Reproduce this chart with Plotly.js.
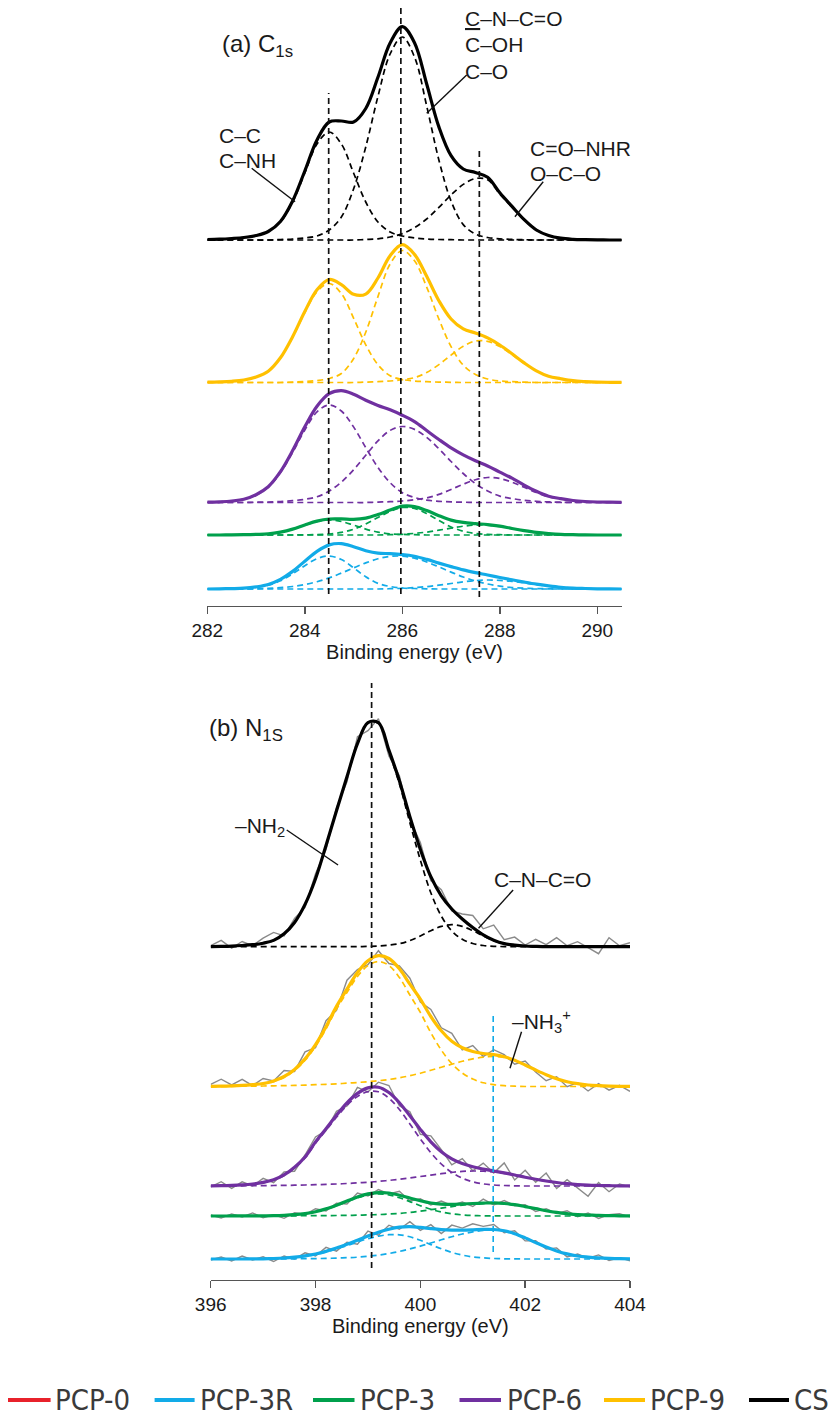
<!DOCTYPE html>
<html>
<head>
<meta charset="utf-8">
<script src="https://cdn.plot.ly/plotly-3.0.1.min.js"></script>
<style>html,body{margin:0;padding:0;background:#fff;}</style>
</head>
<body>
<div id="chart" style="width:836px;height:1419px;"></div>
<script>
// ---------------- DATA ----------------
// (a) C1s : binding energy grid (eV)
const xC = [282,282.25,282.5,282.75,283,283.25,283.5,283.75,284,284.25,284.5,284.75,285,285.25,285.5,285.75,286,286.25,286.5,286.75,287,287.25,287.5,287.75,288,288.25,288.5,288.75,289,289.25,289.5,289.75,290,290.25,290.5];

// fitted components (C–C/C–NH ~284.5, C–N–C=O/C–OH/C–O ~286, C=O–NHR/O–C–O ~287.6)
const cs_C1   = [0.5,0.8,1.5,2.5,4.5,8.5,18,38,67,96,108,96,67,38,18,8,4,2,1,0.5,0.3,0,0,0,0,0,0,0,0,0,0,0,0,0,0];
const cs_C2   = [0,0,0,0,0,0,0.5,1,2,4,10,23,51,93,143.5,186,203,183,134,80,39,15.4,6,2.5,1.2,0.6,0.3,0,0,0,0,0,0,0,0];
const cs_C3   = [0,0,0,0,0,0,0,0,0,0,0,0,0,0.5,1.2,3,6.4,12.3,21,32.6,45,55.6,61.5,60.3,46,33,20,10,4.5,1.8,0.7,0.3,0.1,0,0];

const p9_C1   = [0.3,0.6,1.2,2.5,5.5,11.3,24.7,45.3,70,90.8,99,88.9,64.4,37.7,17.8,6.8,3,1.5,0.8,0.4,0.2,0,0,0,0,0,0,0,0,0,0,0,0,0,0];
const p9_C2   = [0,0,0,0,0,0,0,0.5,1,2,4,9,23.8,50.3,85.9,118.5,132,121.7,95.4,63.5,35.9,17.3,8,3.5,1.5,0.8,0.4,0,0,0,0,0,0,0,0];
const p9_C3   = [0,0,0,0,0,0,0,0,0,0,0,0,0,0.4,0.8,1.5,2.8,4.9,10,17.9,27.4,36.3,41.5,41.1,36,27.9,19.2,11.7,6.3,3.8,1.8,0.9,0.4,0.2,0.1];

const p6_C1   = [0.3,0.7,1.5,3.2,7.5,15.3,29.8,50.1,72.5,90.6,97.5,91.5,75.6,54.9,35.1,19.8,9.8,5,2.4,1.2,0.6,0.3,0,0,0,0,0,0,0,0,0,0,0,0,0];
const p6_C2   = [0,0,0,0,0.3,0.5,1,1.8,3.2,5.7,11.4,20.4,32.7,47.3,61.6,72.1,76,73.1,65.1,53.7,41,29,18.9,11.5,6.4,4,2.2,1.2,0.6,0.3,0,0,0,0,0];
const p6_C3   = [0,0,0,0,0,0,0,0,0,0,0,0,0,0,0.4,0.8,1.5,2.8,4.5,8.1,13,18.3,22.8,25,24,20.3,15.2,10,5.7,3.5,2,1,0.5,0.3,0.2];

const p3_C1   = [0,0,0.1,0.3,0.6,1.1,2.9,5.9,9.9,13.5,15,13.5,9.9,5.9,2.9,1.1,0.6,0.3,0,0,0,0,0,0,0,0,0,0,0,0,0,0,0,0,0];
const p3_C2   = [0,0,0,0,0,0,0,0,0.2,0.4,1,2.6,5.8,11,17.5,23.5,27.5,26.5,21.5,14.5,8,3.8,1.5,0.6,0.3,0,0,0,0,0,0,0,0,0,0];
const p3_C3   = [0,0,0,0,0,0,0,0,0,0,0,0,0,0,0,0.3,0.7,1.6,2.9,4.8,6.9,8.8,9.9,9.8,8.5,6.5,4.4,2.6,1.4,0.6,0.3,0.1,0,0,0];

const p3r_C1  = [0,0.2,0.4,0.8,1.8,3.8,8.2,15.1,23.3,30.3,33,29.5,21.2,12.2,5.6,2.5,1,0.5,0.2,0,0,0,0,0,0,0,0,0,0,0,0,0,0,0,0];
const p3r_C2  = [0,0,0,0,0.3,0.7,1.4,2.5,4.5,7.3,11.1,15.9,21.1,26.1,30.2,32.6,32.8,30.8,27,22.1,16.9,12,8,5,2.9,1.5,0.8,0.4,0.2,0,0,0,0,0,0];
const p3r_C3  = [0,0,0,0,0,0,0,0,0,0,0,0,0,0,0,0.3,0.7,1.4,2.4,3.8,5.5,7.1,8.4,9,8.6,7.7,6.1,4.4,2.9,1.7,0.9,0.5,0.2,0.1,0];

// (b) N1s : binding energy grid (eV)
const xN = [396,396.2,396.4,396.6,396.8,397,397.2,397.4,397.6,397.8,398,398.2,398.4,398.6,398.8,399,399.2,399.4,399.6,399.8,400,400.2,400.4,400.6,400.8,401,401.2,401.4,401.6,401.8,402,402.2,402.4,402.6,402.8,403,403.2,403.4,403.6,403.8,404];

const cs_N1   = [0.1,0.3,0.6,1.2,2,3.5,6.3,12.9,24.2,42.3,68,101.2,136,170,203,223.8,223.4,195,163,124,86.6,54,30.6,15.7,7.4,3.2,1.2,0.4,0.1,0,0,0,0,0,0,0,0,0,0,0,0];
const cs_N2   = [0,0,0,0,0,0,0,0,0,0,0,0,0,0,0,0.3,0.7,1.6,3,6.1,10.7,16,20.3,22,20.3,16,10.7,6.1,3,1.6,0.7,0.3,0,0,0,0,0,0,0,0,0];
const cs_res  = [1,6,-2,4,-1,5,8,-2,4,-3,5,-4,3,-5,7,-8,4,-6,5,-3,7,-4,6,-2,5,12,6,15,4,8,1,7,2,9,1,5,-1,-7,9,1,4];

const p9_N1   = [0.1,0.2,0.4,0.8,1.5,2.5,4.9,9.1,16,26.2,40.1,57.6,77.4,94,110,121,125,121,109,91.5,74.1,53.8,36.4,22.9,13.5,7.4,3.7,1.8,0.8,0.3,0,0,0,0,0,0,0,0,0,0,0];
const p9_N2   = [0,0.1,0.2,0.3,0.4,0.5,0.7,0.9,1.1,1.4,1.8,2.2,2.7,3.3,4,4.8,5.8,7,8.7,10.8,13.3,16.2,19.3,22.3,25.2,27.6,29.3,30,29,26,21.5,16.5,11.8,7.8,4.8,2.8,1.5,0.8,0.4,0.2,0.1];
const p9_res  = [2,7,1,6,-1,5,0,6,-2,7,-3,6,-4,9,3,-4,5,-5,3,6,-3,7,3,8,-2,6,-3,5,2,-4,4,-2,-6,2,-5,1,-6,2,-4,1,-5];

const p6_N1   = [0.1,0.2,0.5,0.9,1.7,3.2,5.8,10.5,18,28,42.8,55.7,68.7,80.6,89.5,94.3,94.2,87.9,76.5,62.1,47.1,33.3,22,13.5,7.8,4.2,2.1,1,0.5,0.2,0,0,0,0,0,0,0,0,0,0,0];
const p6_N2   = [0,0.1,0.1,0.2,0.3,0.4,0.5,0.6,0.8,1,1.3,1.6,2,2.5,3.1,3.8,4.6,5.6,6.8,8.1,9.5,10.9,12.3,13.6,14.6,15,14.8,14,12.6,10.8,8.8,6.8,5,3.5,2.3,1.4,0.8,0.5,0.3,0.1,0.1];
const p6_res  = [-1,4,-3,3,-2,4,-3,3,-4,2,5,-2,4,-3,6,-4,5,7,-3,4,-5,6,2,-6,5,-4,6,-2,10,-5,7,-3,8,-6,4,-3,-11,3,-6,2,-1];

const p3_N1   = [0,0,0,0,0,0.1,0.2,0.5,1.1,2.2,4,6.7,10.3,14.4,18.2,21,22,21,18.2,14.4,10.3,6.7,4,2.2,1.1,0.5,0.2,0.1,0,0,0,0,0,0,0,0,0,0,0,0,0];
const p3_N2   = [0,0,0.05,0.05,0.1,0.1,0.1,0.15,0.2,0.25,0.3,0.4,0.5,0.6,0.8,1.1,1.4,2,2.6,3.6,4.9,6.3,7.9,9.4,10.9,12,12.7,13,12.5,11.3,9.4,7.4,5.3,3.6,2.3,1.3,1,0.6,0.4,0.2,0.1];
const p3_res  = [1,-2,2,-1,3,-2,1,-3,2,-1,3,-2,2,-3,4,-2,3,-1,4,-3,2,-2,3,-1,2,-3,4,-2,3,-1,2,-3,2,-1,3,-2,2,-3,1,2,-1];

const p3r_N1  = [0,0,0,0,0.1,0.2,0.5,0.9,1.7,2.9,4.6,7,10,13.4,17,20.3,22.9,24.3,24.2,22.2,18.7,14.4,10.2,6.6,3.9,2.1,1.1,0.5,0.2,0.1,0,0,0,0,0,0,0,0,0,0,0];
const p3r_N2  = [0,0,0,0,0,0,0,0.1,0.2,0.3,0.4,0.6,0.9,1.3,1.8,2.7,3.9,5.5,7.6,10.1,12.9,16,19.2,22.3,25,27.1,28.5,29,28,25.2,21.1,16.4,11.9,8.1,5.1,3,1.9,1.1,0.6,0.3,0.2];
const p3r_res = [-1,2,-2,3,-1,2,-3,2,-2,3,-2,4,-3,2,-4,5,-3,4,-2,5,-3,4,-4,5,2,6,3,5,-2,3,-3,2,-2,3,-3,2,-1,3,-2,1,-2];

// reference peak positions (eV)
const peaksC = [284.49, 285.97, 287.58];
const peakNH2 = 399.07, peakNH3 = 401.39;

// axis ticks
const ticksC = [282,284,286,288,290];
const ticksN = [396,398,400,402,404];

// legend
const legendNames = ['PCP-0','PCP-3R','PCP-3','PCP-6','PCP-9','CS'];

// ---------------- STYLE ----------------
const COL = {'PCP-0':'#E8212B','PCP-3R':'#12ABE8','PCP-3':'#00A04C','PCP-6':'#7030A0','PCP-9':'#FFC000','CS':'#000000'};
const FONT = 'Liberation Sans, Arial, Helvetica, sans-serif';
const TXT = '#1a1a1a';

// vertical offsets (stacking) per sample
const offC = {'CS':366,'PCP-9':223.5,'PCP-6':103.5,'PCP-3':71,'PCP-3R':17};
const offN = {'CS':333.3,'PCP-9':193.5,'PCP-6':94,'PCP-3':64,'PCP-3R':21};

const traces = [];
function sumArr(list){ return list[0].map((_,i)=>list.reduce((s,a)=>s+a[i],0)); }
function addSample(name, x, comps, res, off, xa, ya){
  const env = sumArr(comps);
  const c = COL[name];
  if(res){
    traces.push({x:x, y:env.map((v,i)=>v+res[i]+off), xaxis:xa, yaxis:ya, mode:'lines',
      line:{color:'#8a8a8a', width:1.4}, hoverinfo:'skip', showlegend:false});
  }
  comps.forEach(cp=>{
    traces.push({x:x, y:cp.map(v=>v+off), xaxis:xa, yaxis:ya, mode:'lines',
      line:{color:c, width:1.7, dash:'6px,4px', shape:'spline', smoothing:1}, hoverinfo:'skip', showlegend:false});
  });
  traces.push({x:x, y:env.map(v=>v+off), xaxis:xa, yaxis:ya, mode:'lines', name:name,
    line:{color:c, width:3.2, shape:'spline', smoothing:1}, showlegend:false});
}
// panel (a)
addSample('PCP-3R', xC, [p3r_C1,p3r_C2,p3r_C3], null, offC['PCP-3R'], 'x','y');
addSample('PCP-3',  xC, [p3_C1,p3_C2,p3_C3],   null, offC['PCP-3'],  'x','y');
addSample('PCP-6',  xC, [p6_C1,p6_C2,p6_C3],   null, offC['PCP-6'],  'x','y');
addSample('PCP-9',  xC, [p9_C1,p9_C2,p9_C3],   null, offC['PCP-9'],  'x','y');
addSample('CS',     xC, [cs_C1,cs_C2,cs_C3],   null, offC['CS'],     'x','y');
// panel (b)
addSample('PCP-3R', xN, [p3r_N1,p3r_N2], p3r_res, offN['PCP-3R'], 'x2','y2');
addSample('PCP-3',  xN, [p3_N1,p3_N2],   p3_res,  offN['PCP-3'],  'x2','y2');
addSample('PCP-6',  xN, [p6_N1,p6_N2],   p6_res,  offN['PCP-6'],  'x2','y2');
addSample('PCP-9',  xN, [p9_N1,p9_N2],   p9_res,  offN['PCP-9'],  'x2','y2');
addSample('CS',     xN, [cs_N1,cs_N2],   cs_res,  offN['CS'],     'x2','y2');

// ---------------- LAYOUT ----------------
const W = 836, H = 1419;
const px = v => v/W, py = v => 1 - v/H;

const shapes = [];
const vdash = {color:'#111', width:1.7, dash:'6px,4px'};
shapes.push({type:'line', xref:'x', yref:'y', x0:peaksC[0], x1:peaksC[0], y0:12, y1:513, line:vdash});
shapes.push({type:'line', xref:'x', yref:'y', x0:peaksC[1], x1:peaksC[1], y0:12, y1:598, line:vdash});
shapes.push({type:'line', xref:'x', yref:'y', x0:peaksC[2], x1:peaksC[2], y0:9,  y1:458, line:vdash});
shapes.push({type:'line', xref:'x2', yref:'y2', x0:peakNH2, x1:peakNH2, y0:12, y1:597, line:vdash});
shapes.push({type:'line', xref:'x2', yref:'y2', x0:peakNH3, x1:peakNH3, y0:28, y1:267, line:{color:COL['PCP-3R'], width:1.6, dash:'6px,4px'}});
// leader lines
const lead = {color:'#111', width:1.4};
[[282.91,437.7,283.80,404.3],[287.32,531,286.50,492.7],[288.89,424.3,288.31,389.3]].forEach(s=>
  shapes.push({type:'line', xref:'x', yref:'y', x0:s[0], y0:s[1], x1:s[2], y1:s[3], line:lead}));
[[397.45,450,398.43,415],[401.77,390,401.11,351.7],[401.93,248.3,401.71,211.7]].forEach(s=>
  shapes.push({type:'line', xref:'x2', yref:'y2', x0:s[0], y0:s[1], x1:s[2], y1:s[3], line:lead}));

const ann = [];
function A(text, x, y, xr, yr, size){
  ann.push({text:text, x:x, y:y, xref:xr, yref:yr, xanchor:'left', yanchor:'middle', showarrow:false,
    font:{family:FONT, size:size||21, color:TXT}});
}
A('(a) C<sub>1s</sub>', 282.26, 561, 'x','y', 24);
A('C–C', 282.19, 471, 'x','y');
A('C–NH', 282.19, 446, 'x','y');
A("<span style='text-decoration:underline'>C</span>–N–C=O", 287.25, 587.7, 'x','y');
A('C–OH', 287.25, 562, 'x','y');
A('C–O', 287.25, 535, 'x','y');
A('C=O–NHR', 288.585, 457.7, 'x','y');
A('O–C–O', 288.585, 432.7, 'x','y');
A('(b) N<sub>1S</sub>', px(206.7), py(729), 'paper','paper', 24);
A('–NH<sub>2</sub>', 396.43, 453.3, 'x2','y2');
A('C–N–C=O', 401.36, 401, 'x2','y2');
A('–NH<sub>3</sub><sup>+</sup>', 401.71, 258.3, 'x2','y2');

// legend (drawn manually)
const legLines = [[8,50.6,53],[154.6,194.6,198],[313,354.5,358],[459.5,501,505],[604,645,648],[749,789,791.5]];
const legY = 1400;
legendNames.forEach((n,i)=>{
  const L = legLines[i];
  shapes.push({type:'line', xref:'paper', yref:'paper', x0:px(L[0]), x1:px(L[1]), y0:py(legY), y1:py(legY),
    line:{color:COL[n], width:4}});
  ann.push({text:n, x:px(L[2]), y:py(legY), xref:'paper', yref:'paper', xanchor:'left', yanchor:'middle',
    showarrow:false, font:{family:'Liberation Sans Narrow, DejaVu Sans Condensed, Roboto Condensed, Liberation Sans, sans-serif', size:29, color:'#3a3a3a'}});
});

const axBase = {
  showline:true, linecolor:'#555', linewidth:1.4, ticks:'outside', ticklen:7, tickwidth:1.4, tickcolor:'#555',
  showgrid:false, zeroline:false, tickfont:{family:FONT, size:19, color:TXT}, fixedrange:true
};
const layout = {
  width:W, height:H, margin:{l:0,r:0,t:0,b:0}, paper_bgcolor:'#ffffff', plot_bgcolor:'rgba(0,0,0,0)',
  showlegend:false, font:{family:FONT, color:TXT},
  xaxis: Object.assign({}, axBase, {domain:[px(207.3), px(621.7)], range:[282,290.5], anchor:'y', tickvals:ticksC,
    title:{text:'Binding energy (eV)', font:{family:FONT, size:20, color:TXT}, standoff:1}}),
  yaxis: {domain:[py(606), 1], range:[0,606], visible:false, fixedrange:true},
  xaxis2: Object.assign({}, axBase, {domain:[px(210.7), px(630)], range:[396,404], anchor:'y2', tickvals:ticksN,
    title:{text:'Binding energy (eV)', font:{family:FONT, size:20, color:TXT}, standoff:1}}),
  yaxis2: {domain:[py(1280), py(680)], range:[0,600], visible:false, fixedrange:true},
  shapes:shapes, annotations:ann
};
Plotly.newPlot('chart', traces, layout, {staticPlot:true, displayModeBar:false});
</script>
</body>
</html>
